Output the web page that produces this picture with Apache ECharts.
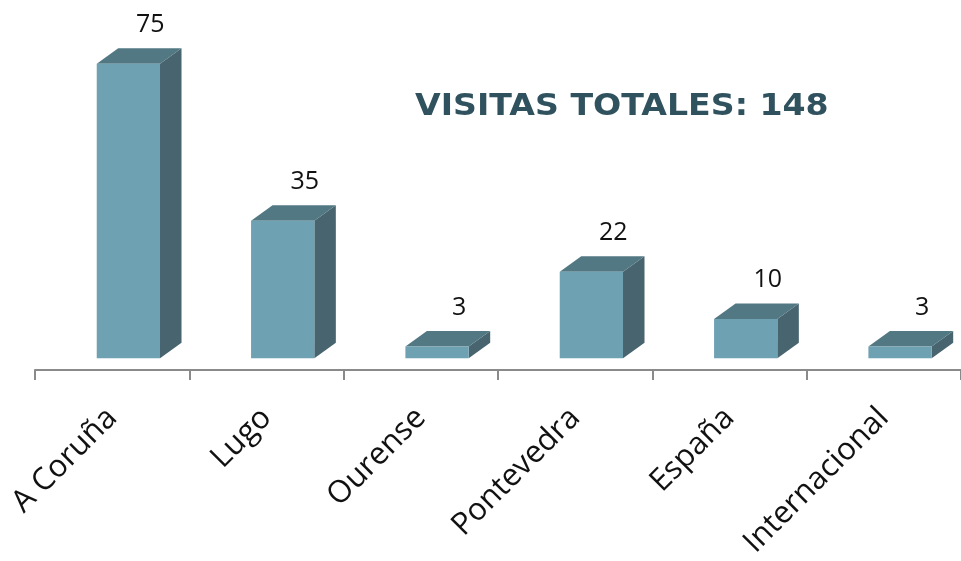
<!DOCTYPE html>
<html>
<head>
<meta charset="utf-8">
<script src="https://cdn.jsdelivr.net/npm/echarts@6/dist/echarts.min.js"></script>
<style>html,body{margin:0;padding:0;background:#fff;}#c{width:961px;height:561px;}</style>
</head>
<body>
<div id="c"></div>
<script>
const categories = ['A Coruña', 'Lugo', 'Ourense', 'Pontevedra', 'España', 'Internacional'];
const visitas = [75, 35, 3, 22, 10, 3];
const titleText = 'VISITAS TOTALES: 148';

const chart = echarts.init(document.getElementById('c'));
const DX = 21.5, DY = 15.5;
function renderItem(params, api) {
  const i = api.value(0);
  const v = api.value(1);
  const base = api.coord([i, 0]);
  const top = api.coord([i, v]);
  const bw = api.size([1, 0])[0];
  const fw = bw * 0.41;
  const cx = base[0] + bw * 0.105;
  const x0 = cx - fw / 2, x1 = cx + fw / 2;
  const yt = top[1], yb = base[1];
  return {
    type: 'group',
    children: [
      { type: 'polygon', shape: { points: [[x1, yt], [x1 + DX, yt - DY], [x1 + DX, yb - DY], [x1, yb]] },
        style: { fill: '#47646f' } },
      { type: 'polygon', shape: { points: [[x0, yt], [x0 + DX, yt - DY], [x1 + DX, yt - DY], [x1, yt]] },
        style: { fill: '#527883' } },
      { type: 'rect', shape: { x: x0, y: yt, width: fw, height: yb - yt },
        style: { fill: '#6ea1b2' } },
      { type: 'text', x: cx + 22, y: yt - DY - 11,
        style: { text: String(v), fill: '#111', font: '25px "Open Sans"', align: 'center', verticalAlign: 'bottom' } }
    ]
  };
}
chart.setOption({
  animation: false,
  backgroundColor: '#fff',
  graphic: [{
    type: 'text', left: 415, top: 91, scaleX: 1.07,
    style: { text: titleText, font: 'bold 31px "DejaVu Sans"', fill: '#30525e' }
  }],
  grid: { left: 35, right: -6, top: 44, bottom: 191, containLabel: false },
  xAxis: {
    type: 'category', data: categories,
    axisLine: { onZero: false, lineStyle: { color: '#8a8a8a', width: 2 } },
    axisTick: { show: true, length: 10, lineStyle: { color: '#8a8a8a', width: 2 } },
    axisLabel: { rotate: 45, margin: 43, color: '#111', fontFamily: 'Open Sans', fontSize: 31, interval: 0 }
  },
  yAxis: { type: 'value', min: -3, max: 80, show: false, splitLine: { show: false } },
  series: [{
    type: 'custom', renderItem: renderItem,
    data: visitas.map((v, i) => [i, v]),
    encode: { x: 0, y: 1 }, clip: false
  }]
});
</script>
</body>
</html>
